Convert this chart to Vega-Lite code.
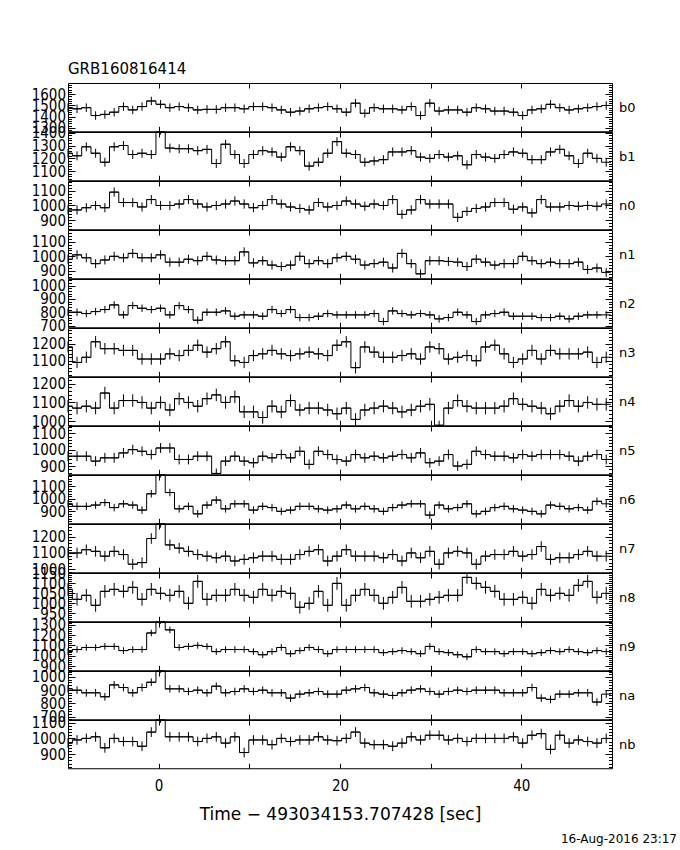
{
"$schema":"https://vega.github.io/schema/vega-lite/v6.json",
"padding":{"left":30,"top":61,"right":5,"bottom":5},
"bounds":"flush",
"spacing":0,
"config":{
"view":{"stroke":"black","strokeWidth":1},
"font":"DejaVu Sans",
"axis":{"grid":false,"domain":false,"tickColor":"black","tickWidth":1,"labelColor":"black","titleColor":"black","labelFont":"DejaVu Sans Condensed, DejaVu Sans","titleFont":"DejaVu Sans","titleFontWeight":"normal","labelFlush":false,"labelOverlap":false,"labelBound":false},
"axisLeft":{"labelFontSize":15,"labelPadding":9.5},
"axisRight":{"titleAngle":0,"titleAlign":"left","titleBaseline":"middle","titlePadding":6,"titleFontSize":13,"titleFont":"DejaVu Sans"},
"axisBottom":{"labelFontSize":15,"labelPadding":15,"titleFontSize":17,"titlePadding":13}
},
"data":{"values":[
{"d":"b0","t":-10.028,"v":1480,"e":38},{"d":"b0","t":-9.004,"v":1470,"e":38},{"d":"b0","t":-7.98,"v":1480,"e":38},{"d":"b0","t":-6.956,"v":1410,"e":38},{"d":"b0","t":-5.932,"v":1420,"e":38},{"d":"b0","t":-4.908,"v":1440,"e":38},{"d":"b0","t":-3.884,"v":1490,"e":38},{"d":"b0","t":-2.86,"v":1460,"e":38},{"d":"b0","t":-1.836,"v":1490,"e":38},{"d":"b0","t":-0.812,"v":1540,"e":38},{"d":"b0","t":0.212,"v":1510,"e":38},{"d":"b0","t":1.236,"v":1480,"e":38},{"d":"b0","t":2.26,"v":1490,"e":38},{"d":"b0","t":3.284,"v":1480,"e":38},{"d":"b0","t":4.308,"v":1460,"e":38},{"d":"b0","t":5.332,"v":1465,"e":38},{"d":"b0","t":6.356,"v":1465,"e":38},{"d":"b0","t":7.38,"v":1480,"e":38},{"d":"b0","t":8.404,"v":1480,"e":38},{"d":"b0","t":9.428,"v":1470,"e":38},{"d":"b0","t":10.452,"v":1490,"e":38},{"d":"b0","t":11.476,"v":1490,"e":38},{"d":"b0","t":12.5,"v":1480,"e":38},{"d":"b0","t":13.524,"v":1460,"e":38},{"d":"b0","t":14.548,"v":1440,"e":38},{"d":"b0","t":15.572,"v":1450,"e":38},{"d":"b0","t":16.596,"v":1470,"e":38},{"d":"b0","t":17.62,"v":1480,"e":38},{"d":"b0","t":18.644,"v":1490,"e":38},{"d":"b0","t":19.668,"v":1470,"e":38},{"d":"b0","t":20.692,"v":1440,"e":38},{"d":"b0","t":21.716,"v":1520,"e":38},{"d":"b0","t":22.74,"v":1430,"e":38},{"d":"b0","t":23.764,"v":1480,"e":38},{"d":"b0","t":24.788,"v":1470,"e":38},{"d":"b0","t":25.812,"v":1470,"e":38},{"d":"b0","t":26.836,"v":1460,"e":38},{"d":"b0","t":27.86,"v":1490,"e":38},{"d":"b0","t":28.884,"v":1410,"e":38},{"d":"b0","t":29.908,"v":1520,"e":38},{"d":"b0","t":30.932,"v":1450,"e":38},{"d":"b0","t":31.956,"v":1460,"e":38},{"d":"b0","t":32.98,"v":1460,"e":38},{"d":"b0","t":34.004,"v":1440,"e":38},{"d":"b0","t":35.028,"v":1480,"e":38},{"d":"b0","t":36.052,"v":1470,"e":38},{"d":"b0","t":37.076,"v":1450,"e":38},{"d":"b0","t":38.1,"v":1450,"e":38},{"d":"b0","t":39.124,"v":1440,"e":38},{"d":"b0","t":40.148,"v":1410,"e":38},{"d":"b0","t":41.172,"v":1460,"e":38},{"d":"b0","t":42.196,"v":1470,"e":38},{"d":"b0","t":43.22,"v":1510,"e":38},{"d":"b0","t":44.244,"v":1480,"e":38},{"d":"b0","t":45.268,"v":1460,"e":38},{"d":"b0","t":46.292,"v":1470,"e":38},{"d":"b0","t":47.316,"v":1480,"e":38},{"d":"b0","t":48.34,"v":1490,"e":38},{"d":"b0","t":49.364,"v":1500,"e":38},
{"d":"b1","t":-10.028,"v":1240,"e":35},{"d":"b1","t":-9.004,"v":1220,"e":35},{"d":"b1","t":-7.98,"v":1290,"e":35},{"d":"b1","t":-6.956,"v":1240,"e":35},{"d":"b1","t":-5.932,"v":1170,"e":35},{"d":"b1","t":-4.908,"v":1290,"e":35},{"d":"b1","t":-3.884,"v":1300,"e":35},{"d":"b1","t":-2.86,"v":1230,"e":35},{"d":"b1","t":-1.836,"v":1240,"e":35},{"d":"b1","t":-0.812,"v":1230,"e":35},{"d":"b1","t":0.212,"v":1420,"e":35},{"d":"b1","t":1.236,"v":1280,"e":35},{"d":"b1","t":2.26,"v":1275,"e":35},{"d":"b1","t":3.284,"v":1275,"e":35},{"d":"b1","t":4.308,"v":1260,"e":35},{"d":"b1","t":5.332,"v":1270,"e":35},{"d":"b1","t":6.356,"v":1160,"e":35},{"d":"b1","t":7.38,"v":1310,"e":35},{"d":"b1","t":8.404,"v":1230,"e":35},{"d":"b1","t":9.428,"v":1160,"e":35},{"d":"b1","t":10.452,"v":1230,"e":35},{"d":"b1","t":11.476,"v":1260,"e":35},{"d":"b1","t":12.5,"v":1250,"e":35},{"d":"b1","t":13.524,"v":1210,"e":35},{"d":"b1","t":14.548,"v":1290,"e":35},{"d":"b1","t":15.572,"v":1260,"e":35},{"d":"b1","t":16.596,"v":1140,"e":35},{"d":"b1","t":17.62,"v":1170,"e":35},{"d":"b1","t":18.644,"v":1240,"e":35},{"d":"b1","t":19.668,"v":1330,"e":35},{"d":"b1","t":20.692,"v":1240,"e":35},{"d":"b1","t":21.716,"v":1230,"e":35},{"d":"b1","t":22.74,"v":1170,"e":35},{"d":"b1","t":23.764,"v":1180,"e":35},{"d":"b1","t":24.788,"v":1190,"e":35},{"d":"b1","t":25.812,"v":1250,"e":35},{"d":"b1","t":26.836,"v":1250,"e":35},{"d":"b1","t":27.86,"v":1260,"e":35},{"d":"b1","t":28.884,"v":1210,"e":35},{"d":"b1","t":29.908,"v":1200,"e":35},{"d":"b1","t":30.932,"v":1230,"e":35},{"d":"b1","t":31.956,"v":1210,"e":35},{"d":"b1","t":32.98,"v":1220,"e":35},{"d":"b1","t":34.004,"v":1150,"e":35},{"d":"b1","t":35.028,"v":1230,"e":35},{"d":"b1","t":36.052,"v":1210,"e":35},{"d":"b1","t":37.076,"v":1200,"e":35},{"d":"b1","t":38.1,"v":1230,"e":35},{"d":"b1","t":39.124,"v":1250,"e":35},{"d":"b1","t":40.148,"v":1240,"e":35},{"d":"b1","t":41.172,"v":1190,"e":35},{"d":"b1","t":42.196,"v":1190,"e":35},{"d":"b1","t":43.22,"v":1250,"e":35},{"d":"b1","t":44.244,"v":1270,"e":35},{"d":"b1","t":45.268,"v":1220,"e":35},{"d":"b1","t":46.292,"v":1160,"e":35},{"d":"b1","t":47.316,"v":1240,"e":35},{"d":"b1","t":48.34,"v":1200,"e":35},{"d":"b1","t":49.364,"v":1170,"e":35},
{"d":"n0","t":-10.028,"v":970,"e":31},{"d":"n0","t":-9.004,"v":970,"e":31},{"d":"n0","t":-7.98,"v":985,"e":31},{"d":"n0","t":-6.956,"v":1000,"e":31},{"d":"n0","t":-5.932,"v":985,"e":31},{"d":"n0","t":-4.908,"v":1090,"e":31},{"d":"n0","t":-3.884,"v":1020,"e":31},{"d":"n0","t":-2.86,"v":1020,"e":31},{"d":"n0","t":-1.836,"v":990,"e":31},{"d":"n0","t":-0.812,"v":1040,"e":31},{"d":"n0","t":0.212,"v":1000,"e":31},{"d":"n0","t":1.236,"v":1000,"e":31},{"d":"n0","t":2.26,"v":1010,"e":31},{"d":"n0","t":3.284,"v":1040,"e":31},{"d":"n0","t":4.308,"v":1010,"e":31},{"d":"n0","t":5.332,"v":990,"e":31},{"d":"n0","t":6.356,"v":1000,"e":31},{"d":"n0","t":7.38,"v":1010,"e":31},{"d":"n0","t":8.404,"v":1030,"e":31},{"d":"n0","t":9.428,"v":1010,"e":31},{"d":"n0","t":10.452,"v":985,"e":31},{"d":"n0","t":11.476,"v":1000,"e":31},{"d":"n0","t":12.5,"v":1040,"e":31},{"d":"n0","t":13.524,"v":1010,"e":31},{"d":"n0","t":14.548,"v":990,"e":31},{"d":"n0","t":15.572,"v":980,"e":31},{"d":"n0","t":16.596,"v":970,"e":31},{"d":"n0","t":17.62,"v":1020,"e":31},{"d":"n0","t":18.644,"v":990,"e":31},{"d":"n0","t":19.668,"v":1000,"e":31},{"d":"n0","t":20.692,"v":1030,"e":31},{"d":"n0","t":21.716,"v":1010,"e":31},{"d":"n0","t":22.74,"v":995,"e":31},{"d":"n0","t":23.764,"v":1010,"e":31},{"d":"n0","t":24.788,"v":1000,"e":31},{"d":"n0","t":25.812,"v":1040,"e":31},{"d":"n0","t":26.836,"v":940,"e":31},{"d":"n0","t":27.86,"v":970,"e":31},{"d":"n0","t":28.884,"v":1040,"e":31},{"d":"n0","t":29.908,"v":1010,"e":31},{"d":"n0","t":30.932,"v":1010,"e":31},{"d":"n0","t":31.956,"v":1010,"e":31},{"d":"n0","t":32.98,"v":920,"e":31},{"d":"n0","t":34.004,"v":960,"e":31},{"d":"n0","t":35.028,"v":980,"e":31},{"d":"n0","t":36.052,"v":990,"e":31},{"d":"n0","t":37.076,"v":1020,"e":31},{"d":"n0","t":38.1,"v":1020,"e":31},{"d":"n0","t":39.124,"v":975,"e":31},{"d":"n0","t":40.148,"v":990,"e":31},{"d":"n0","t":41.172,"v":950,"e":31},{"d":"n0","t":42.196,"v":1040,"e":31},{"d":"n0","t":43.22,"v":990,"e":31},{"d":"n0","t":44.244,"v":990,"e":31},{"d":"n0","t":45.268,"v":1000,"e":31},{"d":"n0","t":46.292,"v":995,"e":31},{"d":"n0","t":47.316,"v":1000,"e":31},{"d":"n0","t":48.34,"v":995,"e":31},{"d":"n0","t":49.364,"v":1010,"e":31},
{"d":"n1","t":-10.028,"v":980,"e":31},{"d":"n1","t":-9.004,"v":1010,"e":31},{"d":"n1","t":-7.98,"v":990,"e":31},{"d":"n1","t":-6.956,"v":950,"e":31},{"d":"n1","t":-5.932,"v":975,"e":31},{"d":"n1","t":-4.908,"v":1000,"e":31},{"d":"n1","t":-3.884,"v":990,"e":31},{"d":"n1","t":-2.86,"v":1020,"e":31},{"d":"n1","t":-1.836,"v":990,"e":31},{"d":"n1","t":-0.812,"v":990,"e":31},{"d":"n1","t":0.212,"v":1010,"e":31},{"d":"n1","t":1.236,"v":960,"e":31},{"d":"n1","t":2.26,"v":960,"e":31},{"d":"n1","t":3.284,"v":980,"e":31},{"d":"n1","t":4.308,"v":970,"e":31},{"d":"n1","t":5.332,"v":1000,"e":31},{"d":"n1","t":6.356,"v":975,"e":31},{"d":"n1","t":7.38,"v":970,"e":31},{"d":"n1","t":8.404,"v":970,"e":31},{"d":"n1","t":9.428,"v":1030,"e":31},{"d":"n1","t":10.452,"v":955,"e":31},{"d":"n1","t":11.476,"v":970,"e":31},{"d":"n1","t":12.5,"v":940,"e":31},{"d":"n1","t":13.524,"v":930,"e":31},{"d":"n1","t":14.548,"v":940,"e":31},{"d":"n1","t":15.572,"v":1000,"e":31},{"d":"n1","t":16.596,"v":950,"e":31},{"d":"n1","t":17.62,"v":970,"e":31},{"d":"n1","t":18.644,"v":950,"e":31},{"d":"n1","t":19.668,"v":990,"e":31},{"d":"n1","t":20.692,"v":1000,"e":31},{"d":"n1","t":21.716,"v":980,"e":31},{"d":"n1","t":22.74,"v":940,"e":31},{"d":"n1","t":23.764,"v":950,"e":31},{"d":"n1","t":24.788,"v":960,"e":31},{"d":"n1","t":25.812,"v":920,"e":31},{"d":"n1","t":26.836,"v":1020,"e":31},{"d":"n1","t":27.86,"v":950,"e":31},{"d":"n1","t":28.884,"v":880,"e":31},{"d":"n1","t":29.908,"v":970,"e":31},{"d":"n1","t":30.932,"v":970,"e":31},{"d":"n1","t":31.956,"v":965,"e":31},{"d":"n1","t":32.98,"v":960,"e":31},{"d":"n1","t":34.004,"v":930,"e":31},{"d":"n1","t":35.028,"v":980,"e":31},{"d":"n1","t":36.052,"v":960,"e":31},{"d":"n1","t":37.076,"v":940,"e":31},{"d":"n1","t":38.1,"v":950,"e":31},{"d":"n1","t":39.124,"v":950,"e":31},{"d":"n1","t":40.148,"v":1000,"e":31},{"d":"n1","t":41.172,"v":970,"e":31},{"d":"n1","t":42.196,"v":950,"e":31},{"d":"n1","t":43.22,"v":960,"e":31},{"d":"n1","t":44.244,"v":950,"e":31},{"d":"n1","t":45.268,"v":950,"e":31},{"d":"n1","t":46.292,"v":960,"e":31},{"d":"n1","t":47.316,"v":910,"e":31},{"d":"n1","t":48.34,"v":920,"e":31},{"d":"n1","t":49.364,"v":890,"e":31},
{"d":"n2","t":-10.028,"v":800,"e":28},{"d":"n2","t":-9.004,"v":800,"e":28},{"d":"n2","t":-7.98,"v":790,"e":28},{"d":"n2","t":-6.956,"v":805,"e":28},{"d":"n2","t":-5.932,"v":820,"e":28},{"d":"n2","t":-4.908,"v":855,"e":28},{"d":"n2","t":-3.884,"v":780,"e":28},{"d":"n2","t":-2.86,"v":850,"e":28},{"d":"n2","t":-1.836,"v":830,"e":28},{"d":"n2","t":-0.812,"v":820,"e":28},{"d":"n2","t":0.212,"v":830,"e":28},{"d":"n2","t":1.236,"v":780,"e":28},{"d":"n2","t":2.26,"v":850,"e":28},{"d":"n2","t":3.284,"v":820,"e":28},{"d":"n2","t":4.308,"v":740,"e":28},{"d":"n2","t":5.332,"v":800,"e":28},{"d":"n2","t":6.356,"v":800,"e":28},{"d":"n2","t":7.38,"v":810,"e":28},{"d":"n2","t":8.404,"v":770,"e":28},{"d":"n2","t":9.428,"v":780,"e":28},{"d":"n2","t":10.452,"v":780,"e":28},{"d":"n2","t":11.476,"v":770,"e":28},{"d":"n2","t":12.5,"v":820,"e":28},{"d":"n2","t":13.524,"v":790,"e":28},{"d":"n2","t":14.548,"v":820,"e":28},{"d":"n2","t":15.572,"v":760,"e":28},{"d":"n2","t":16.596,"v":760,"e":28},{"d":"n2","t":17.62,"v":770,"e":28},{"d":"n2","t":18.644,"v":790,"e":28},{"d":"n2","t":19.668,"v":780,"e":28},{"d":"n2","t":20.692,"v":780,"e":28},{"d":"n2","t":21.716,"v":780,"e":28},{"d":"n2","t":22.74,"v":780,"e":28},{"d":"n2","t":23.764,"v":790,"e":28},{"d":"n2","t":24.788,"v":730,"e":28},{"d":"n2","t":25.812,"v":810,"e":28},{"d":"n2","t":26.836,"v":790,"e":28},{"d":"n2","t":27.86,"v":780,"e":28},{"d":"n2","t":28.884,"v":790,"e":28},{"d":"n2","t":29.908,"v":780,"e":28},{"d":"n2","t":30.932,"v":750,"e":28},{"d":"n2","t":31.956,"v":760,"e":28},{"d":"n2","t":32.98,"v":800,"e":28},{"d":"n2","t":34.004,"v":780,"e":28},{"d":"n2","t":35.028,"v":730,"e":28},{"d":"n2","t":36.052,"v":780,"e":28},{"d":"n2","t":37.076,"v":790,"e":28},{"d":"n2","t":38.1,"v":800,"e":28},{"d":"n2","t":39.124,"v":770,"e":28},{"d":"n2","t":40.148,"v":770,"e":28},{"d":"n2","t":41.172,"v":770,"e":28},{"d":"n2","t":42.196,"v":760,"e":28},{"d":"n2","t":43.22,"v":760,"e":28},{"d":"n2","t":44.244,"v":770,"e":28},{"d":"n2","t":45.268,"v":750,"e":28},{"d":"n2","t":46.292,"v":770,"e":28},{"d":"n2","t":47.316,"v":780,"e":28},{"d":"n2","t":48.34,"v":780,"e":28},{"d":"n2","t":49.364,"v":780,"e":28},
{"d":"n3","t":-10.028,"v":1180,"e":33},{"d":"n3","t":-9.004,"v":1090,"e":33},{"d":"n3","t":-7.98,"v":1120,"e":33},{"d":"n3","t":-6.956,"v":1210,"e":33},{"d":"n3","t":-5.932,"v":1170,"e":33},{"d":"n3","t":-4.908,"v":1170,"e":33},{"d":"n3","t":-3.884,"v":1160,"e":33},{"d":"n3","t":-2.86,"v":1160,"e":33},{"d":"n3","t":-1.836,"v":1110,"e":33},{"d":"n3","t":-0.812,"v":1110,"e":33},{"d":"n3","t":0.212,"v":1110,"e":33},{"d":"n3","t":1.236,"v":1140,"e":33},{"d":"n3","t":2.26,"v":1130,"e":33},{"d":"n3","t":3.284,"v":1160,"e":33},{"d":"n3","t":4.308,"v":1190,"e":33},{"d":"n3","t":5.332,"v":1150,"e":33},{"d":"n3","t":6.356,"v":1170,"e":33},{"d":"n3","t":7.38,"v":1210,"e":33},{"d":"n3","t":8.404,"v":1100,"e":33},{"d":"n3","t":9.428,"v":1090,"e":33},{"d":"n3","t":10.452,"v":1130,"e":33},{"d":"n3","t":11.476,"v":1140,"e":33},{"d":"n3","t":12.5,"v":1160,"e":33},{"d":"n3","t":13.524,"v":1140,"e":33},{"d":"n3","t":14.548,"v":1130,"e":33},{"d":"n3","t":15.572,"v":1140,"e":33},{"d":"n3","t":16.596,"v":1150,"e":33},{"d":"n3","t":17.62,"v":1140,"e":33},{"d":"n3","t":18.644,"v":1130,"e":33},{"d":"n3","t":19.668,"v":1190,"e":33},{"d":"n3","t":20.692,"v":1210,"e":33},{"d":"n3","t":21.716,"v":1060,"e":33},{"d":"n3","t":22.74,"v":1180,"e":33},{"d":"n3","t":23.764,"v":1150,"e":33},{"d":"n3","t":24.788,"v":1120,"e":33},{"d":"n3","t":25.812,"v":1120,"e":33},{"d":"n3","t":26.836,"v":1130,"e":33},{"d":"n3","t":27.86,"v":1140,"e":33},{"d":"n3","t":28.884,"v":1110,"e":33},{"d":"n3","t":29.908,"v":1180,"e":33},{"d":"n3","t":30.932,"v":1170,"e":33},{"d":"n3","t":31.956,"v":1110,"e":33},{"d":"n3","t":32.98,"v":1120,"e":33},{"d":"n3","t":34.004,"v":1130,"e":33},{"d":"n3","t":35.028,"v":1100,"e":33},{"d":"n3","t":36.052,"v":1180,"e":33},{"d":"n3","t":37.076,"v":1190,"e":33},{"d":"n3","t":38.1,"v":1140,"e":33},{"d":"n3","t":39.124,"v":1090,"e":33},{"d":"n3","t":40.148,"v":1110,"e":33},{"d":"n3","t":41.172,"v":1160,"e":33},{"d":"n3","t":42.196,"v":1110,"e":33},{"d":"n3","t":43.22,"v":1160,"e":33},{"d":"n3","t":44.244,"v":1140,"e":33},{"d":"n3","t":45.268,"v":1140,"e":33},{"d":"n3","t":46.292,"v":1140,"e":33},{"d":"n3","t":47.316,"v":1150,"e":33},{"d":"n3","t":48.34,"v":1090,"e":33},{"d":"n3","t":49.364,"v":1120,"e":33},
{"d":"n4","t":-10.028,"v":1080,"e":33},{"d":"n4","t":-9.004,"v":1070,"e":33},{"d":"n4","t":-7.98,"v":1080,"e":33},{"d":"n4","t":-6.956,"v":1070,"e":33},{"d":"n4","t":-5.932,"v":1150,"e":33},{"d":"n4","t":-4.908,"v":1070,"e":33},{"d":"n4","t":-3.884,"v":1110,"e":33},{"d":"n4","t":-2.86,"v":1110,"e":33},{"d":"n4","t":-1.836,"v":1100,"e":33},{"d":"n4","t":-0.812,"v":1070,"e":33},{"d":"n4","t":0.212,"v":1100,"e":33},{"d":"n4","t":1.236,"v":1060,"e":33},{"d":"n4","t":2.26,"v":1120,"e":33},{"d":"n4","t":3.284,"v":1100,"e":33},{"d":"n4","t":4.308,"v":1080,"e":33},{"d":"n4","t":5.332,"v":1120,"e":33},{"d":"n4","t":6.356,"v":1140,"e":33},{"d":"n4","t":7.38,"v":1100,"e":33},{"d":"n4","t":8.404,"v":1130,"e":33},{"d":"n4","t":9.428,"v":1050,"e":33},{"d":"n4","t":10.452,"v":1050,"e":33},{"d":"n4","t":11.476,"v":1020,"e":33},{"d":"n4","t":12.5,"v":1080,"e":33},{"d":"n4","t":13.524,"v":1050,"e":33},{"d":"n4","t":14.548,"v":1110,"e":33},{"d":"n4","t":15.572,"v":1060,"e":33},{"d":"n4","t":16.596,"v":1070,"e":33},{"d":"n4","t":17.62,"v":1070,"e":33},{"d":"n4","t":18.644,"v":1060,"e":33},{"d":"n4","t":19.668,"v":1040,"e":33},{"d":"n4","t":20.692,"v":1070,"e":33},{"d":"n4","t":21.716,"v":1010,"e":33},{"d":"n4","t":22.74,"v":1060,"e":33},{"d":"n4","t":23.764,"v":1070,"e":33},{"d":"n4","t":24.788,"v":1080,"e":33},{"d":"n4","t":25.812,"v":1070,"e":33},{"d":"n4","t":26.836,"v":1050,"e":33},{"d":"n4","t":27.86,"v":1060,"e":33},{"d":"n4","t":28.884,"v":1080,"e":33},{"d":"n4","t":29.908,"v":1090,"e":33},{"d":"n4","t":30.932,"v":970,"e":33},{"d":"n4","t":31.956,"v":1070,"e":33},{"d":"n4","t":32.98,"v":1110,"e":33},{"d":"n4","t":34.004,"v":1080,"e":33},{"d":"n4","t":35.028,"v":1070,"e":33},{"d":"n4","t":36.052,"v":1070,"e":33},{"d":"n4","t":37.076,"v":1070,"e":33},{"d":"n4","t":38.1,"v":1080,"e":33},{"d":"n4","t":39.124,"v":1120,"e":33},{"d":"n4","t":40.148,"v":1090,"e":33},{"d":"n4","t":41.172,"v":1080,"e":33},{"d":"n4","t":42.196,"v":1070,"e":33},{"d":"n4","t":43.22,"v":1040,"e":33},{"d":"n4","t":44.244,"v":1080,"e":33},{"d":"n4","t":45.268,"v":1110,"e":33},{"d":"n4","t":46.292,"v":1080,"e":33},{"d":"n4","t":47.316,"v":1100,"e":33},{"d":"n4","t":48.34,"v":1090,"e":33},{"d":"n4","t":49.364,"v":1090,"e":33},
{"d":"n5","t":-10.028,"v":960,"e":30},{"d":"n5","t":-9.004,"v":960,"e":30},{"d":"n5","t":-7.98,"v":960,"e":30},{"d":"n5","t":-6.956,"v":930,"e":30},{"d":"n5","t":-5.932,"v":950,"e":30},{"d":"n5","t":-4.908,"v":950,"e":30},{"d":"n5","t":-3.884,"v":980,"e":30},{"d":"n5","t":-2.86,"v":1000,"e":30},{"d":"n5","t":-1.836,"v":990,"e":30},{"d":"n5","t":-0.812,"v":970,"e":30},{"d":"n5","t":0.212,"v":1010,"e":30},{"d":"n5","t":1.236,"v":1010,"e":30},{"d":"n5","t":2.26,"v":940,"e":30},{"d":"n5","t":3.284,"v":940,"e":30},{"d":"n5","t":4.308,"v":960,"e":30},{"d":"n5","t":5.332,"v":960,"e":30},{"d":"n5","t":6.356,"v":855,"e":30},{"d":"n5","t":7.38,"v":930,"e":30},{"d":"n5","t":8.404,"v":960,"e":30},{"d":"n5","t":9.428,"v":930,"e":30},{"d":"n5","t":10.452,"v":920,"e":30},{"d":"n5","t":11.476,"v":960,"e":30},{"d":"n5","t":12.5,"v":950,"e":30},{"d":"n5","t":13.524,"v":970,"e":30},{"d":"n5","t":14.548,"v":950,"e":30},{"d":"n5","t":15.572,"v":990,"e":30},{"d":"n5","t":16.596,"v":910,"e":30},{"d":"n5","t":17.62,"v":990,"e":30},{"d":"n5","t":18.644,"v":970,"e":30},{"d":"n5","t":19.668,"v":940,"e":30},{"d":"n5","t":20.692,"v":930,"e":30},{"d":"n5","t":21.716,"v":970,"e":30},{"d":"n5","t":22.74,"v":950,"e":30},{"d":"n5","t":23.764,"v":960,"e":30},{"d":"n5","t":24.788,"v":950,"e":30},{"d":"n5","t":25.812,"v":960,"e":30},{"d":"n5","t":26.836,"v":970,"e":30},{"d":"n5","t":27.86,"v":950,"e":30},{"d":"n5","t":28.884,"v":980,"e":30},{"d":"n5","t":29.908,"v":920,"e":30},{"d":"n5","t":30.932,"v":930,"e":30},{"d":"n5","t":31.956,"v":970,"e":30},{"d":"n5","t":32.98,"v":900,"e":30},{"d":"n5","t":34.004,"v":910,"e":30},{"d":"n5","t":35.028,"v":990,"e":30},{"d":"n5","t":36.052,"v":970,"e":30},{"d":"n5","t":37.076,"v":960,"e":30},{"d":"n5","t":38.1,"v":960,"e":30},{"d":"n5","t":39.124,"v":950,"e":30},{"d":"n5","t":40.148,"v":970,"e":30},{"d":"n5","t":41.172,"v":960,"e":30},{"d":"n5","t":42.196,"v":970,"e":30},{"d":"n5","t":43.22,"v":970,"e":30},{"d":"n5","t":44.244,"v":970,"e":30},{"d":"n5","t":45.268,"v":960,"e":30},{"d":"n5","t":46.292,"v":930,"e":30},{"d":"n5","t":47.316,"v":960,"e":30},{"d":"n5","t":48.34,"v":970,"e":30},{"d":"n5","t":49.364,"v":940,"e":30},
{"d":"n6","t":-10.028,"v":960,"e":30},{"d":"n6","t":-9.004,"v":940,"e":30},{"d":"n6","t":-7.98,"v":940,"e":30},{"d":"n6","t":-6.956,"v":950,"e":30},{"d":"n6","t":-5.932,"v":970,"e":30},{"d":"n6","t":-4.908,"v":930,"e":30},{"d":"n6","t":-3.884,"v":960,"e":30},{"d":"n6","t":-2.86,"v":950,"e":30},{"d":"n6","t":-1.836,"v":910,"e":30},{"d":"n6","t":-0.812,"v":1040,"e":30},{"d":"n6","t":0.212,"v":1200,"e":30},{"d":"n6","t":1.236,"v":1050,"e":30},{"d":"n6","t":2.26,"v":920,"e":30},{"d":"n6","t":3.284,"v":940,"e":30},{"d":"n6","t":4.308,"v":880,"e":30},{"d":"n6","t":5.332,"v":950,"e":30},{"d":"n6","t":6.356,"v":990,"e":30},{"d":"n6","t":7.38,"v":920,"e":30},{"d":"n6","t":8.404,"v":960,"e":30},{"d":"n6","t":9.428,"v":960,"e":30},{"d":"n6","t":10.452,"v":910,"e":30},{"d":"n6","t":11.476,"v":940,"e":30},{"d":"n6","t":12.5,"v":930,"e":30},{"d":"n6","t":13.524,"v":900,"e":30},{"d":"n6","t":14.548,"v":910,"e":30},{"d":"n6","t":15.572,"v":940,"e":30},{"d":"n6","t":16.596,"v":940,"e":30},{"d":"n6","t":17.62,"v":920,"e":30},{"d":"n6","t":18.644,"v":910,"e":30},{"d":"n6","t":19.668,"v":920,"e":30},{"d":"n6","t":20.692,"v":950,"e":30},{"d":"n6","t":21.716,"v":920,"e":30},{"d":"n6","t":22.74,"v":940,"e":30},{"d":"n6","t":23.764,"v":920,"e":30},{"d":"n6","t":24.788,"v":900,"e":30},{"d":"n6","t":25.812,"v":930,"e":30},{"d":"n6","t":26.836,"v":950,"e":30},{"d":"n6","t":27.86,"v":960,"e":30},{"d":"n6","t":28.884,"v":960,"e":30},{"d":"n6","t":29.908,"v":870,"e":30},{"d":"n6","t":30.932,"v":950,"e":30},{"d":"n6","t":31.956,"v":920,"e":30},{"d":"n6","t":32.98,"v":930,"e":30},{"d":"n6","t":34.004,"v":960,"e":30},{"d":"n6","t":35.028,"v":880,"e":30},{"d":"n6","t":36.052,"v":900,"e":30},{"d":"n6","t":37.076,"v":930,"e":30},{"d":"n6","t":38.1,"v":940,"e":30},{"d":"n6","t":39.124,"v":920,"e":30},{"d":"n6","t":40.148,"v":910,"e":30},{"d":"n6","t":41.172,"v":900,"e":30},{"d":"n6","t":42.196,"v":880,"e":30},{"d":"n6","t":43.22,"v":950,"e":30},{"d":"n6","t":44.244,"v":940,"e":30},{"d":"n6","t":45.268,"v":920,"e":30},{"d":"n6","t":46.292,"v":930,"e":30},{"d":"n6","t":47.316,"v":910,"e":30},{"d":"n6","t":48.34,"v":980,"e":30},{"d":"n6","t":49.364,"v":960,"e":30},
{"d":"n7","t":-10.028,"v":1100,"e":33},{"d":"n7","t":-9.004,"v":1100,"e":33},{"d":"n7","t":-7.98,"v":1120,"e":33},{"d":"n7","t":-6.956,"v":1110,"e":33},{"d":"n7","t":-5.932,"v":1080,"e":33},{"d":"n7","t":-4.908,"v":1110,"e":33},{"d":"n7","t":-3.884,"v":1090,"e":33},{"d":"n7","t":-2.86,"v":1030,"e":33},{"d":"n7","t":-1.836,"v":1040,"e":33},{"d":"n7","t":-0.812,"v":1190,"e":33},{"d":"n7","t":0.212,"v":1290,"e":33},{"d":"n7","t":1.236,"v":1150,"e":33},{"d":"n7","t":2.26,"v":1130,"e":33},{"d":"n7","t":3.284,"v":1110,"e":33},{"d":"n7","t":4.308,"v":1090,"e":33},{"d":"n7","t":5.332,"v":1080,"e":33},{"d":"n7","t":6.356,"v":1070,"e":33},{"d":"n7","t":7.38,"v":1080,"e":33},{"d":"n7","t":8.404,"v":1050,"e":33},{"d":"n7","t":9.428,"v":1060,"e":33},{"d":"n7","t":10.452,"v":1070,"e":33},{"d":"n7","t":11.476,"v":1080,"e":33},{"d":"n7","t":12.5,"v":1080,"e":33},{"d":"n7","t":13.524,"v":1060,"e":33},{"d":"n7","t":14.548,"v":1060,"e":33},{"d":"n7","t":15.572,"v":1090,"e":33},{"d":"n7","t":16.596,"v":1110,"e":33},{"d":"n7","t":17.62,"v":1120,"e":33},{"d":"n7","t":18.644,"v":1050,"e":33},{"d":"n7","t":19.668,"v":1080,"e":33},{"d":"n7","t":20.692,"v":1120,"e":33},{"d":"n7","t":21.716,"v":1080,"e":33},{"d":"n7","t":22.74,"v":1080,"e":33},{"d":"n7","t":23.764,"v":1080,"e":33},{"d":"n7","t":24.788,"v":1070,"e":33},{"d":"n7","t":25.812,"v":1090,"e":33},{"d":"n7","t":26.836,"v":1050,"e":33},{"d":"n7","t":27.86,"v":1100,"e":33},{"d":"n7","t":28.884,"v":1070,"e":33},{"d":"n7","t":29.908,"v":1110,"e":33},{"d":"n7","t":30.932,"v":1030,"e":33},{"d":"n7","t":31.956,"v":1100,"e":33},{"d":"n7","t":32.98,"v":1110,"e":33},{"d":"n7","t":34.004,"v":1100,"e":33},{"d":"n7","t":35.028,"v":1030,"e":33},{"d":"n7","t":36.052,"v":1080,"e":33},{"d":"n7","t":37.076,"v":1090,"e":33},{"d":"n7","t":38.1,"v":1090,"e":33},{"d":"n7","t":39.124,"v":1110,"e":33},{"d":"n7","t":40.148,"v":1080,"e":33},{"d":"n7","t":41.172,"v":1090,"e":33},{"d":"n7","t":42.196,"v":1140,"e":33},{"d":"n7","t":43.22,"v":1060,"e":33},{"d":"n7","t":44.244,"v":1070,"e":33},{"d":"n7","t":45.268,"v":1070,"e":33},{"d":"n7","t":46.292,"v":1090,"e":33},{"d":"n7","t":47.316,"v":1110,"e":33},{"d":"n7","t":48.34,"v":1080,"e":33},{"d":"n7","t":49.364,"v":1080,"e":33},
{"d":"n8","t":-10.028,"v":1070,"e":32},{"d":"n8","t":-9.004,"v":1020,"e":32},{"d":"n8","t":-7.98,"v":1040,"e":32},{"d":"n8","t":-6.956,"v":990,"e":32},{"d":"n8","t":-5.932,"v":1060,"e":32},{"d":"n8","t":-4.908,"v":1070,"e":32},{"d":"n8","t":-3.884,"v":1060,"e":32},{"d":"n8","t":-2.86,"v":1080,"e":32},{"d":"n8","t":-1.836,"v":1020,"e":32},{"d":"n8","t":-0.812,"v":1070,"e":32},{"d":"n8","t":0.212,"v":1050,"e":32},{"d":"n8","t":1.236,"v":1040,"e":32},{"d":"n8","t":2.26,"v":1060,"e":32},{"d":"n8","t":3.284,"v":1000,"e":32},{"d":"n8","t":4.308,"v":1110,"e":32},{"d":"n8","t":5.332,"v":1020,"e":32},{"d":"n8","t":6.356,"v":1040,"e":32},{"d":"n8","t":7.38,"v":1040,"e":32},{"d":"n8","t":8.404,"v":1070,"e":32},{"d":"n8","t":9.428,"v":1040,"e":32},{"d":"n8","t":10.452,"v":1030,"e":32},{"d":"n8","t":11.476,"v":1070,"e":32},{"d":"n8","t":12.5,"v":1040,"e":32},{"d":"n8","t":13.524,"v":1060,"e":32},{"d":"n8","t":14.548,"v":1050,"e":32},{"d":"n8","t":15.572,"v":980,"e":32},{"d":"n8","t":16.596,"v":1000,"e":32},{"d":"n8","t":17.62,"v":1060,"e":32},{"d":"n8","t":18.644,"v":990,"e":32},{"d":"n8","t":19.668,"v":1100,"e":32},{"d":"n8","t":20.692,"v":990,"e":32},{"d":"n8","t":21.716,"v":1040,"e":32},{"d":"n8","t":22.74,"v":1070,"e":32},{"d":"n8","t":23.764,"v":1040,"e":32},{"d":"n8","t":24.788,"v":1000,"e":32},{"d":"n8","t":25.812,"v":1030,"e":32},{"d":"n8","t":26.836,"v":1080,"e":32},{"d":"n8","t":27.86,"v":1010,"e":32},{"d":"n8","t":28.884,"v":1010,"e":32},{"d":"n8","t":29.908,"v":1020,"e":32},{"d":"n8","t":30.932,"v":1030,"e":32},{"d":"n8","t":31.956,"v":1040,"e":32},{"d":"n8","t":32.98,"v":1040,"e":32},{"d":"n8","t":34.004,"v":1130,"e":32},{"d":"n8","t":35.028,"v":1100,"e":32},{"d":"n8","t":36.052,"v":1080,"e":32},{"d":"n8","t":37.076,"v":1060,"e":32},{"d":"n8","t":38.1,"v":1020,"e":32},{"d":"n8","t":39.124,"v":1020,"e":32},{"d":"n8","t":40.148,"v":1030,"e":32},{"d":"n8","t":41.172,"v":1000,"e":32},{"d":"n8","t":42.196,"v":1070,"e":32},{"d":"n8","t":43.22,"v":1040,"e":32},{"d":"n8","t":44.244,"v":1050,"e":32},{"d":"n8","t":45.268,"v":1040,"e":32},{"d":"n8","t":46.292,"v":1090,"e":32},{"d":"n8","t":47.316,"v":1110,"e":32},{"d":"n8","t":48.34,"v":1030,"e":32},{"d":"n8","t":49.364,"v":1050,"e":32},
{"d":"n9","t":-10.028,"v":1040,"e":32},{"d":"n9","t":-9.004,"v":1060,"e":32},{"d":"n9","t":-7.98,"v":1080,"e":32},{"d":"n9","t":-6.956,"v":1080,"e":32},{"d":"n9","t":-5.932,"v":1090,"e":32},{"d":"n9","t":-4.908,"v":1090,"e":32},{"d":"n9","t":-3.884,"v":1050,"e":32},{"d":"n9","t":-2.86,"v":1060,"e":32},{"d":"n9","t":-1.836,"v":1060,"e":32},{"d":"n9","t":-0.812,"v":1220,"e":32},{"d":"n9","t":0.212,"v":1340,"e":32},{"d":"n9","t":1.236,"v":1250,"e":32},{"d":"n9","t":2.26,"v":1080,"e":32},{"d":"n9","t":3.284,"v":1090,"e":32},{"d":"n9","t":4.308,"v":1100,"e":32},{"d":"n9","t":5.332,"v":1090,"e":32},{"d":"n9","t":6.356,"v":1040,"e":32},{"d":"n9","t":7.38,"v":1060,"e":32},{"d":"n9","t":8.404,"v":1060,"e":32},{"d":"n9","t":9.428,"v":1060,"e":32},{"d":"n9","t":10.452,"v":1040,"e":32},{"d":"n9","t":11.476,"v":1010,"e":32},{"d":"n9","t":12.5,"v":1040,"e":32},{"d":"n9","t":13.524,"v":1080,"e":32},{"d":"n9","t":14.548,"v":1020,"e":32},{"d":"n9","t":15.572,"v":1050,"e":32},{"d":"n9","t":16.596,"v":1080,"e":32},{"d":"n9","t":17.62,"v":1060,"e":32},{"d":"n9","t":18.644,"v":1020,"e":32},{"d":"n9","t":19.668,"v":1060,"e":32},{"d":"n9","t":20.692,"v":1060,"e":32},{"d":"n9","t":21.716,"v":1060,"e":32},{"d":"n9","t":22.74,"v":1060,"e":32},{"d":"n9","t":23.764,"v":1060,"e":32},{"d":"n9","t":24.788,"v":1030,"e":32},{"d":"n9","t":25.812,"v":1040,"e":32},{"d":"n9","t":26.836,"v":1050,"e":32},{"d":"n9","t":27.86,"v":1040,"e":32},{"d":"n9","t":28.884,"v":1020,"e":32},{"d":"n9","t":29.908,"v":1090,"e":32},{"d":"n9","t":30.932,"v":1040,"e":32},{"d":"n9","t":31.956,"v":1030,"e":32},{"d":"n9","t":32.98,"v":1010,"e":32},{"d":"n9","t":34.004,"v":990,"e":32},{"d":"n9","t":35.028,"v":1060,"e":32},{"d":"n9","t":36.052,"v":1040,"e":32},{"d":"n9","t":37.076,"v":1040,"e":32},{"d":"n9","t":38.1,"v":1020,"e":32},{"d":"n9","t":39.124,"v":1040,"e":32},{"d":"n9","t":40.148,"v":1040,"e":32},{"d":"n9","t":41.172,"v":1020,"e":32},{"d":"n9","t":42.196,"v":1030,"e":32},{"d":"n9","t":43.22,"v":1050,"e":32},{"d":"n9","t":44.244,"v":1040,"e":32},{"d":"n9","t":45.268,"v":1060,"e":32},{"d":"n9","t":46.292,"v":1040,"e":32},{"d":"n9","t":47.316,"v":1030,"e":32},{"d":"n9","t":48.34,"v":1050,"e":32},{"d":"n9","t":49.364,"v":1040,"e":32},
{"d":"na","t":-10.028,"v":910,"e":29},{"d":"na","t":-9.004,"v":900,"e":29},{"d":"na","t":-7.98,"v":880,"e":29},{"d":"na","t":-6.956,"v":880,"e":29},{"d":"na","t":-5.932,"v":850,"e":29},{"d":"na","t":-4.908,"v":940,"e":29},{"d":"na","t":-3.884,"v":920,"e":29},{"d":"na","t":-2.86,"v":880,"e":29},{"d":"na","t":-1.836,"v":920,"e":29},{"d":"na","t":-0.812,"v":960,"e":29},{"d":"na","t":0.212,"v":1060,"e":29},{"d":"na","t":1.236,"v":910,"e":29},{"d":"na","t":2.26,"v":910,"e":29},{"d":"na","t":3.284,"v":890,"e":29},{"d":"na","t":4.308,"v":900,"e":29},{"d":"na","t":5.332,"v":880,"e":29},{"d":"na","t":6.356,"v":930,"e":29},{"d":"na","t":7.38,"v":880,"e":29},{"d":"na","t":8.404,"v":890,"e":29},{"d":"na","t":9.428,"v":910,"e":29},{"d":"na","t":10.452,"v":890,"e":29},{"d":"na","t":11.476,"v":900,"e":29},{"d":"na","t":12.5,"v":880,"e":29},{"d":"na","t":13.524,"v":880,"e":29},{"d":"na","t":14.548,"v":840,"e":29},{"d":"na","t":15.572,"v":870,"e":29},{"d":"na","t":16.596,"v":880,"e":29},{"d":"na","t":17.62,"v":890,"e":29},{"d":"na","t":18.644,"v":870,"e":29},{"d":"na","t":19.668,"v":870,"e":29},{"d":"na","t":20.692,"v":900,"e":29},{"d":"na","t":21.716,"v":910,"e":29},{"d":"na","t":22.74,"v":920,"e":29},{"d":"na","t":23.764,"v":880,"e":29},{"d":"na","t":24.788,"v":870,"e":29},{"d":"na","t":25.812,"v":860,"e":29},{"d":"na","t":26.836,"v":880,"e":29},{"d":"na","t":27.86,"v":900,"e":29},{"d":"na","t":28.884,"v":910,"e":29},{"d":"na","t":29.908,"v":890,"e":29},{"d":"na","t":30.932,"v":870,"e":29},{"d":"na","t":31.956,"v":890,"e":29},{"d":"na","t":32.98,"v":900,"e":29},{"d":"na","t":34.004,"v":890,"e":29},{"d":"na","t":35.028,"v":900,"e":29},{"d":"na","t":36.052,"v":900,"e":29},{"d":"na","t":37.076,"v":900,"e":29},{"d":"na","t":38.1,"v":880,"e":29},{"d":"na","t":39.124,"v":880,"e":29},{"d":"na","t":40.148,"v":880,"e":29},{"d":"na","t":41.172,"v":920,"e":29},{"d":"na","t":42.196,"v":840,"e":29},{"d":"na","t":43.22,"v":830,"e":29},{"d":"na","t":44.244,"v":870,"e":29},{"d":"na","t":45.268,"v":870,"e":29},{"d":"na","t":46.292,"v":880,"e":29},{"d":"na","t":47.316,"v":880,"e":29},{"d":"na","t":48.34,"v":810,"e":29},{"d":"na","t":49.364,"v":870,"e":29},
{"d":"nb","t":-10.028,"v":970,"e":31},{"d":"nb","t":-9.004,"v":990,"e":31},{"d":"nb","t":-7.98,"v":1000,"e":31},{"d":"nb","t":-6.956,"v":1010,"e":31},{"d":"nb","t":-5.932,"v":940,"e":31},{"d":"nb","t":-4.908,"v":1000,"e":31},{"d":"nb","t":-3.884,"v":980,"e":31},{"d":"nb","t":-2.86,"v":980,"e":31},{"d":"nb","t":-1.836,"v":950,"e":31},{"d":"nb","t":-0.812,"v":1040,"e":31},{"d":"nb","t":0.212,"v":1130,"e":31},{"d":"nb","t":1.236,"v":1010,"e":31},{"d":"nb","t":2.26,"v":1010,"e":31},{"d":"nb","t":3.284,"v":1010,"e":31},{"d":"nb","t":4.308,"v":980,"e":31},{"d":"nb","t":5.332,"v":1000,"e":31},{"d":"nb","t":6.356,"v":1010,"e":31},{"d":"nb","t":7.38,"v":970,"e":31},{"d":"nb","t":8.404,"v":1010,"e":31},{"d":"nb","t":9.428,"v":910,"e":31},{"d":"nb","t":10.452,"v":990,"e":31},{"d":"nb","t":11.476,"v":990,"e":31},{"d":"nb","t":12.5,"v":960,"e":31},{"d":"nb","t":13.524,"v":1000,"e":31},{"d":"nb","t":14.548,"v":980,"e":31},{"d":"nb","t":15.572,"v":990,"e":31},{"d":"nb","t":16.596,"v":990,"e":31},{"d":"nb","t":17.62,"v":1010,"e":31},{"d":"nb","t":18.644,"v":990,"e":31},{"d":"nb","t":19.668,"v":985,"e":31},{"d":"nb","t":20.692,"v":1000,"e":31},{"d":"nb","t":21.716,"v":1040,"e":31},{"d":"nb","t":22.74,"v":970,"e":31},{"d":"nb","t":23.764,"v":960,"e":31},{"d":"nb","t":24.788,"v":960,"e":31},{"d":"nb","t":25.812,"v":950,"e":31},{"d":"nb","t":26.836,"v":970,"e":31},{"d":"nb","t":27.86,"v":1010,"e":31},{"d":"nb","t":28.884,"v":990,"e":31},{"d":"nb","t":29.908,"v":1020,"e":31},{"d":"nb","t":30.932,"v":1020,"e":31},{"d":"nb","t":31.956,"v":990,"e":31},{"d":"nb","t":32.98,"v":1000,"e":31},{"d":"nb","t":34.004,"v":980,"e":31},{"d":"nb","t":35.028,"v":1000,"e":31},{"d":"nb","t":36.052,"v":1000,"e":31},{"d":"nb","t":37.076,"v":1000,"e":31},{"d":"nb","t":38.1,"v":1000,"e":31},{"d":"nb","t":39.124,"v":1010,"e":31},{"d":"nb","t":40.148,"v":970,"e":31},{"d":"nb","t":41.172,"v":1020,"e":31},{"d":"nb","t":42.196,"v":1030,"e":31},{"d":"nb","t":43.22,"v":930,"e":31},{"d":"nb","t":44.244,"v":1020,"e":31},{"d":"nb","t":45.268,"v":970,"e":31},{"d":"nb","t":46.292,"v":990,"e":31},{"d":"nb","t":47.316,"v":980,"e":31},{"d":"nb","t":48.34,"v":970,"e":31},{"d":"nb","t":49.364,"v":1000,"e":31}
]},
"vconcat":[
{"width":544,"height":48.25,"title":{"text":"GRB160816414","anchor":"start","frame":"group","fontSize":15,"fontWeight":"normal","font":"DejaVu Sans","color":"black","offset":1},
"transform":[{"filter":"datum.d==='b0'"},{"bin":{"step":1.024,"anchor":-0.3,"extent":[-10.6,50.5]},"field":"t","as":["t0","t1"]}],
"layer":[
{"mark":{"type":"rule","color":"black","strokeWidth":1},"encoding":{"x":{"field":"t0","type":"quantitative","scale":{"domain":[-10,50],"clamp":true,"nice":false,"zero":false},"axis":{"orient":"bottom","values":[0,10,20,30,40],"tickSize":-5,"labels":false,"title":null}},"x2":{"field":"t1"},"y":{"field":"v","type":"quantitative","scale":{"domain":[1270,1700],"clamp":true,"nice":false,"zero":false},"axis":{"orient":"left","values":[1280,1300,1320,1340,1360,1380,1400,1420,1440,1460,1480,1500,1520,1540,1560,1580,1600,1620,1640,1660,1680],"tickSize":{"condition":{"test":"datum.value % 100 === 0","value":-7},"value":-3.5},"labelExpr":"datum.value % 100 === 0 ? '' + datum.value : ''","title":null}}}},
{"mark":{"type":"line","interpolate":"step-after","color":"black","strokeWidth":1},"encoding":{"x":{"field":"t0","type":"quantitative","axis":{"orient":"top","values":[0,10,20,30,40],"tickSize":-5,"labels":false,"title":null}},"y":{"field":"v","type":"quantitative","axis":{"orient":"right","values":[1280,1300,1320,1340,1360,1380,1400,1420,1440,1460,1480,1500,1520,1540,1560,1580,1600,1620,1640,1660,1680],"tickSize":{"condition":{"test":"datum.value % 100 === 0","value":-7},"value":-3.5},"labels":false,"title":"b0"}}}},
{"mark":{"type":"errorbar","color":"black","thickness":1},"encoding":{"x":{"field":"t","type":"quantitative","axis":null},"y":{"field":"v","type":"quantitative","axis":null},"yError":{"field":"e"}}}
],"resolve":{"axis":{"x":"independent","y":"independent"}}},
{"width":544,"height":48.25,
"transform":[{"filter":"datum.d==='b1'"},{"bin":{"step":1.024,"anchor":-0.3,"extent":[-10.6,50.5]},"field":"t","as":["t0","t1"]}],
"layer":[
{"mark":{"type":"rule","color":"black","strokeWidth":1},"encoding":{"x":{"field":"t0","type":"quantitative","scale":{"domain":[-10,50],"clamp":true,"nice":false,"zero":false},"axis":{"orient":"bottom","values":[0,10,20,30,40],"tickSize":-5,"labels":false,"title":null}},"x2":{"field":"t1"},"y":{"field":"v","type":"quantitative","scale":{"domain":[1030,1405],"clamp":true,"nice":false,"zero":false},"axis":{"orient":"left","values":[1040,1060,1080,1100,1120,1140,1160,1180,1200,1220,1240,1260,1280,1300,1320,1340,1360,1380,1400],"tickSize":{"condition":{"test":"datum.value % 100 === 0","value":-7},"value":-3.5},"labelExpr":"datum.value % 100 === 0 ? '' + datum.value : ''","title":null}}}},
{"mark":{"type":"line","interpolate":"step-after","color":"black","strokeWidth":1},"encoding":{"x":{"field":"t0","type":"quantitative","axis":{"orient":"top","values":[0,10,20,30,40],"tickSize":-5,"labels":false,"title":null}},"y":{"field":"v","type":"quantitative","axis":{"orient":"right","values":[1040,1060,1080,1100,1120,1140,1160,1180,1200,1220,1240,1260,1280,1300,1320,1340,1360,1380,1400],"tickSize":{"condition":{"test":"datum.value % 100 === 0","value":-7},"value":-3.5},"labels":false,"title":"b1"}}}},
{"mark":{"type":"errorbar","color":"black","thickness":1},"encoding":{"x":{"field":"t","type":"quantitative","axis":null},"y":{"field":"v","type":"quantitative","axis":null},"yError":{"field":"e"}}}
],"resolve":{"axis":{"x":"independent","y":"independent"}}},
{"width":544,"height":48.25,
"transform":[{"filter":"datum.d==='n0'"},{"bin":{"step":1.024,"anchor":-0.3,"extent":[-10.6,50.5]},"field":"t","as":["t0","t1"]}],
"layer":[
{"mark":{"type":"rule","color":"black","strokeWidth":1},"encoding":{"x":{"field":"t0","type":"quantitative","scale":{"domain":[-10,50],"clamp":true,"nice":false,"zero":false},"axis":{"orient":"bottom","values":[0,10,20,30,40],"tickSize":-5,"labels":false,"title":null}},"x2":{"field":"t1"},"y":{"field":"v","type":"quantitative","scale":{"domain":[840,1165],"clamp":true,"nice":false,"zero":false},"axis":{"orient":"left","values":[840,860,880,900,920,940,960,980,1000,1020,1040,1060,1080,1100,1120,1140,1160],"tickSize":{"condition":{"test":"datum.value % 100 === 0","value":-7},"value":-3.5},"labelExpr":"datum.value % 100 === 0 ? '' + datum.value : ''","title":null}}}},
{"mark":{"type":"line","interpolate":"step-after","color":"black","strokeWidth":1},"encoding":{"x":{"field":"t0","type":"quantitative","axis":{"orient":"top","values":[0,10,20,30,40],"tickSize":-5,"labels":false,"title":null}},"y":{"field":"v","type":"quantitative","axis":{"orient":"right","values":[840,860,880,900,920,940,960,980,1000,1020,1040,1060,1080,1100,1120,1140,1160],"tickSize":{"condition":{"test":"datum.value % 100 === 0","value":-7},"value":-3.5},"labels":false,"title":"n0"}}}},
{"mark":{"type":"errorbar","color":"black","thickness":1},"encoding":{"x":{"field":"t","type":"quantitative","axis":null},"y":{"field":"v","type":"quantitative","axis":null},"yError":{"field":"e"}}}
],"resolve":{"axis":{"x":"independent","y":"independent"}}},
{"width":544,"height":48.25,
"transform":[{"filter":"datum.d==='n1'"},{"bin":{"step":1.024,"anchor":-0.3,"extent":[-10.6,50.5]},"field":"t","as":["t0","t1"]}],
"layer":[
{"mark":{"type":"rule","color":"black","strokeWidth":1},"encoding":{"x":{"field":"t0","type":"quantitative","scale":{"domain":[-10,50],"clamp":true,"nice":false,"zero":false},"axis":{"orient":"bottom","values":[0,10,20,30,40],"tickSize":-5,"labels":false,"title":null}},"x2":{"field":"t1"},"y":{"field":"v","type":"quantitative","scale":{"domain":[850,1180],"clamp":true,"nice":false,"zero":false},"axis":{"orient":"left","values":[860,880,900,920,940,960,980,1000,1020,1040,1060,1080,1100,1120,1140,1160],"tickSize":{"condition":{"test":"datum.value % 100 === 0","value":-7},"value":-3.5},"labelExpr":"datum.value % 100 === 0 ? '' + datum.value : ''","title":null}}}},
{"mark":{"type":"line","interpolate":"step-after","color":"black","strokeWidth":1},"encoding":{"x":{"field":"t0","type":"quantitative","axis":{"orient":"top","values":[0,10,20,30,40],"tickSize":-5,"labels":false,"title":null}},"y":{"field":"v","type":"quantitative","axis":{"orient":"right","values":[860,880,900,920,940,960,980,1000,1020,1040,1060,1080,1100,1120,1140,1160],"tickSize":{"condition":{"test":"datum.value % 100 === 0","value":-7},"value":-3.5},"labels":false,"title":"n1"}}}},
{"mark":{"type":"errorbar","color":"black","thickness":1},"encoding":{"x":{"field":"t","type":"quantitative","axis":null},"y":{"field":"v","type":"quantitative","axis":null},"yError":{"field":"e"}}}
],"resolve":{"axis":{"x":"independent","y":"independent"}}},
{"width":544,"height":48.25,
"transform":[{"filter":"datum.d==='n2'"},{"bin":{"step":1.024,"anchor":-0.3,"extent":[-10.6,50.5]},"field":"t","as":["t0","t1"]}],
"layer":[
{"mark":{"type":"rule","color":"black","strokeWidth":1},"encoding":{"x":{"field":"t0","type":"quantitative","scale":{"domain":[-10,50],"clamp":true,"nice":false,"zero":false},"axis":{"orient":"bottom","values":[0,10,20,30,40],"tickSize":-5,"labels":false,"title":null}},"x2":{"field":"t1"},"y":{"field":"v","type":"quantitative","scale":{"domain":[687,1050],"clamp":true,"nice":false,"zero":false},"axis":{"orient":"left","values":[700,720,740,760,780,800,820,840,860,880,900,920,940,960,980,1000,1020,1040],"tickSize":{"condition":{"test":"datum.value % 100 === 0","value":-7},"value":-3.5},"labelExpr":"datum.value % 100 === 0 ? '' + datum.value : ''","title":null}}}},
{"mark":{"type":"line","interpolate":"step-after","color":"black","strokeWidth":1},"encoding":{"x":{"field":"t0","type":"quantitative","axis":{"orient":"top","values":[0,10,20,30,40],"tickSize":-5,"labels":false,"title":null}},"y":{"field":"v","type":"quantitative","axis":{"orient":"right","values":[700,720,740,760,780,800,820,840,860,880,900,920,940,960,980,1000,1020,1040],"tickSize":{"condition":{"test":"datum.value % 100 === 0","value":-7},"value":-3.5},"labels":false,"title":"n2"}}}},
{"mark":{"type":"errorbar","color":"black","thickness":1},"encoding":{"x":{"field":"t","type":"quantitative","axis":null},"y":{"field":"v","type":"quantitative","axis":null},"yError":{"field":"e"}}}
],"resolve":{"axis":{"x":"independent","y":"independent"}}},
{"width":544,"height":48.25,
"transform":[{"filter":"datum.d==='n3'"},{"bin":{"step":1.024,"anchor":-0.3,"extent":[-10.6,50.5]},"field":"t","as":["t0","t1"]}],
"layer":[
{"mark":{"type":"rule","color":"black","strokeWidth":1},"encoding":{"x":{"field":"t0","type":"quantitative","scale":{"domain":[-10,50],"clamp":true,"nice":false,"zero":false},"axis":{"orient":"bottom","values":[0,10,20,30,40],"tickSize":-5,"labels":false,"title":null}},"x2":{"field":"t1"},"y":{"field":"v","type":"quantitative","scale":{"domain":[1010,1290],"clamp":true,"nice":false,"zero":false},"axis":{"orient":"left","values":[1020,1040,1060,1080,1100,1120,1140,1160,1180,1200,1220,1240,1260,1280],"tickSize":{"condition":{"test":"datum.value % 100 === 0","value":-7},"value":-3.5},"labelExpr":"datum.value % 100 === 0 ? '' + datum.value : ''","title":null}}}},
{"mark":{"type":"line","interpolate":"step-after","color":"black","strokeWidth":1},"encoding":{"x":{"field":"t0","type":"quantitative","axis":{"orient":"top","values":[0,10,20,30,40],"tickSize":-5,"labels":false,"title":null}},"y":{"field":"v","type":"quantitative","axis":{"orient":"right","values":[1020,1040,1060,1080,1100,1120,1140,1160,1180,1200,1220,1240,1260,1280],"tickSize":{"condition":{"test":"datum.value % 100 === 0","value":-7},"value":-3.5},"labels":false,"title":"n3"}}}},
{"mark":{"type":"errorbar","color":"black","thickness":1},"encoding":{"x":{"field":"t","type":"quantitative","axis":null},"y":{"field":"v","type":"quantitative","axis":null},"yError":{"field":"e"}}}
],"resolve":{"axis":{"x":"independent","y":"independent"}}},
{"width":544,"height":48.25,
"transform":[{"filter":"datum.d==='n4'"},{"bin":{"step":1.024,"anchor":-0.3,"extent":[-10.6,50.5]},"field":"t","as":["t0","t1"]}],
"layer":[
{"mark":{"type":"rule","color":"black","strokeWidth":1},"encoding":{"x":{"field":"t0","type":"quantitative","scale":{"domain":[-10,50],"clamp":true,"nice":false,"zero":false},"axis":{"orient":"bottom","values":[0,10,20,30,40],"tickSize":-5,"labels":false,"title":null}},"x2":{"field":"t1"},"y":{"field":"v","type":"quantitative","scale":{"domain":[979,1235],"clamp":true,"nice":false,"zero":false},"axis":{"orient":"left","values":[980,1000,1020,1040,1060,1080,1100,1120,1140,1160,1180,1200,1220],"tickSize":{"condition":{"test":"datum.value % 100 === 0","value":-7},"value":-3.5},"labelExpr":"datum.value % 100 === 0 ? '' + datum.value : ''","title":null}}}},
{"mark":{"type":"line","interpolate":"step-after","color":"black","strokeWidth":1},"encoding":{"x":{"field":"t0","type":"quantitative","axis":{"orient":"top","values":[0,10,20,30,40],"tickSize":-5,"labels":false,"title":null}},"y":{"field":"v","type":"quantitative","axis":{"orient":"right","values":[980,1000,1020,1040,1060,1080,1100,1120,1140,1160,1180,1200,1220],"tickSize":{"condition":{"test":"datum.value % 100 === 0","value":-7},"value":-3.5},"labels":false,"title":"n4"}}}},
{"mark":{"type":"errorbar","color":"black","thickness":1},"encoding":{"x":{"field":"t","type":"quantitative","axis":null},"y":{"field":"v","type":"quantitative","axis":null},"yError":{"field":"e"}}}
],"resolve":{"axis":{"x":"independent","y":"independent"}}},
{"width":544,"height":48.25,
"transform":[{"filter":"datum.d==='n5'"},{"bin":{"step":1.024,"anchor":-0.3,"extent":[-10.6,50.5]},"field":"t","as":["t0","t1"]}],
"layer":[
{"mark":{"type":"rule","color":"black","strokeWidth":1},"encoding":{"x":{"field":"t0","type":"quantitative","scale":{"domain":[-10,50],"clamp":true,"nice":false,"zero":false},"axis":{"orient":"bottom","values":[0,10,20,30,40],"tickSize":-5,"labels":false,"title":null}},"x2":{"field":"t1"},"y":{"field":"v","type":"quantitative","scale":{"domain":[850,1144],"clamp":true,"nice":false,"zero":false},"axis":{"orient":"left","values":[860,880,900,920,940,960,980,1000,1020,1040,1060,1080,1100,1120,1140],"tickSize":{"condition":{"test":"datum.value % 100 === 0","value":-7},"value":-3.5},"labelExpr":"datum.value % 100 === 0 ? '' + datum.value : ''","title":null}}}},
{"mark":{"type":"line","interpolate":"step-after","color":"black","strokeWidth":1},"encoding":{"x":{"field":"t0","type":"quantitative","axis":{"orient":"top","values":[0,10,20,30,40],"tickSize":-5,"labels":false,"title":null}},"y":{"field":"v","type":"quantitative","axis":{"orient":"right","values":[860,880,900,920,940,960,980,1000,1020,1040,1060,1080,1100,1120,1140],"tickSize":{"condition":{"test":"datum.value % 100 === 0","value":-7},"value":-3.5},"labels":false,"title":"n5"}}}},
{"mark":{"type":"errorbar","color":"black","thickness":1},"encoding":{"x":{"field":"t","type":"quantitative","axis":null},"y":{"field":"v","type":"quantitative","axis":null},"yError":{"field":"e"}}}
],"resolve":{"axis":{"x":"independent","y":"independent"}}},
{"width":544,"height":48.25,
"transform":[{"filter":"datum.d==='n6'"},{"bin":{"step":1.024,"anchor":-0.3,"extent":[-10.6,50.5]},"field":"t","as":["t0","t1"]}],
"layer":[
{"mark":{"type":"rule","color":"black","strokeWidth":1},"encoding":{"x":{"field":"t0","type":"quantitative","scale":{"domain":[-10,50],"clamp":true,"nice":false,"zero":false},"axis":{"orient":"bottom","values":[0,10,20,30,40],"tickSize":-5,"labels":false,"title":null}},"x2":{"field":"t1"},"y":{"field":"v","type":"quantitative","scale":{"domain":[805,1190],"clamp":true,"nice":false,"zero":false},"axis":{"orient":"left","values":[820,840,860,880,900,920,940,960,980,1000,1020,1040,1060,1080,1100,1120,1140,1160,1180],"tickSize":{"condition":{"test":"datum.value % 100 === 0","value":-7},"value":-3.5},"labelExpr":"datum.value % 100 === 0 ? '' + datum.value : ''","title":null}}}},
{"mark":{"type":"line","interpolate":"step-after","color":"black","strokeWidth":1},"encoding":{"x":{"field":"t0","type":"quantitative","axis":{"orient":"top","values":[0,10,20,30,40],"tickSize":-5,"labels":false,"title":null}},"y":{"field":"v","type":"quantitative","axis":{"orient":"right","values":[820,840,860,880,900,920,940,960,980,1000,1020,1040,1060,1080,1100,1120,1140,1160,1180],"tickSize":{"condition":{"test":"datum.value % 100 === 0","value":-7},"value":-3.5},"labels":false,"title":"n6"}}}},
{"mark":{"type":"errorbar","color":"black","thickness":1},"encoding":{"x":{"field":"t","type":"quantitative","axis":null},"y":{"field":"v","type":"quantitative","axis":null},"yError":{"field":"e"}}}
],"resolve":{"axis":{"x":"independent","y":"independent"}}},
{"width":544,"height":48.25,
"transform":[{"filter":"datum.d==='n7'"},{"bin":{"step":1.024,"anchor":-0.3,"extent":[-10.6,50.5]},"field":"t","as":["t0","t1"]}],
"layer":[
{"mark":{"type":"rule","color":"black","strokeWidth":1},"encoding":{"x":{"field":"t0","type":"quantitative","scale":{"domain":[-10,50],"clamp":true,"nice":false,"zero":false},"axis":{"orient":"bottom","values":[0,10,20,30,40],"tickSize":-5,"labels":false,"title":null}},"x2":{"field":"t1"},"y":{"field":"v","type":"quantitative","scale":{"domain":[980,1280],"clamp":true,"nice":false,"zero":false},"axis":{"orient":"left","values":[980,1000,1020,1040,1060,1080,1100,1120,1140,1160,1180,1200,1220,1240,1260,1280],"tickSize":{"condition":{"test":"datum.value % 100 === 0","value":-7},"value":-3.5},"labelExpr":"datum.value % 100 === 0 ? '' + datum.value : ''","title":null}}}},
{"mark":{"type":"line","interpolate":"step-after","color":"black","strokeWidth":1},"encoding":{"x":{"field":"t0","type":"quantitative","axis":{"orient":"top","values":[0,10,20,30,40],"tickSize":-5,"labels":false,"title":null}},"y":{"field":"v","type":"quantitative","axis":{"orient":"right","values":[980,1000,1020,1040,1060,1080,1100,1120,1140,1160,1180,1200,1220,1240,1260,1280],"tickSize":{"condition":{"test":"datum.value % 100 === 0","value":-7},"value":-3.5},"labels":false,"title":"n7"}}}},
{"mark":{"type":"errorbar","color":"black","thickness":1},"encoding":{"x":{"field":"t","type":"quantitative","axis":null},"y":{"field":"v","type":"quantitative","axis":null},"yError":{"field":"e"}}}
],"resolve":{"axis":{"x":"independent","y":"independent"}}},
{"width":544,"height":48.25,
"transform":[{"filter":"datum.d==='n8'"},{"bin":{"step":1.024,"anchor":-0.3,"extent":[-10.6,50.5]},"field":"t","as":["t0","t1"]}],
"layer":[
{"mark":{"type":"rule","color":"black","strokeWidth":1},"encoding":{"x":{"field":"t0","type":"quantitative","scale":{"domain":[-10,50],"clamp":true,"nice":false,"zero":false},"axis":{"orient":"bottom","values":[0,10,20,30,40],"tickSize":-5,"labels":false,"title":null}},"x2":{"field":"t1"},"y":{"field":"v","type":"quantitative","scale":{"domain":[910,1152],"clamp":true,"nice":false,"zero":false},"axis":{"orient":"left","values":[910,920,930,940,950,960,970,980,990,1000,1010,1020,1030,1040,1050,1060,1070,1080,1090,1100,1110,1120,1130,1140,1150],"tickSize":{"condition":{"test":"datum.value % 50 === 0","value":-7},"value":-3.5},"labelExpr":"datum.value % 50 === 0 ? '' + datum.value : ''","title":null}}}},
{"mark":{"type":"line","interpolate":"step-after","color":"black","strokeWidth":1},"encoding":{"x":{"field":"t0","type":"quantitative","axis":{"orient":"top","values":[0,10,20,30,40],"tickSize":-5,"labels":false,"title":null}},"y":{"field":"v","type":"quantitative","axis":{"orient":"right","values":[910,920,930,940,950,960,970,980,990,1000,1010,1020,1030,1040,1050,1060,1070,1080,1090,1100,1110,1120,1130,1140,1150],"tickSize":{"condition":{"test":"datum.value % 50 === 0","value":-7},"value":-3.5},"labels":false,"title":"n8"}}}},
{"mark":{"type":"errorbar","color":"black","thickness":1},"encoding":{"x":{"field":"t","type":"quantitative","axis":null},"y":{"field":"v","type":"quantitative","axis":null},"yError":{"field":"e"}}}
],"resolve":{"axis":{"x":"independent","y":"independent"}}},
{"width":544,"height":48.25,
"transform":[{"filter":"datum.d==='n9'"},{"bin":{"step":1.024,"anchor":-0.3,"extent":[-10.6,50.5]},"field":"t","as":["t0","t1"]}],
"layer":[
{"mark":{"type":"rule","color":"black","strokeWidth":1},"encoding":{"x":{"field":"t0","type":"quantitative","scale":{"domain":[-10,50],"clamp":true,"nice":false,"zero":false},"axis":{"orient":"bottom","values":[0,10,20,30,40],"tickSize":-5,"labels":false,"title":null}},"x2":{"field":"t1"},"y":{"field":"v","type":"quantitative","scale":{"domain":[860,1326],"clamp":true,"nice":false,"zero":false},"axis":{"orient":"left","values":[860,880,900,920,940,960,980,1000,1020,1040,1060,1080,1100,1120,1140,1160,1180,1200,1220,1240,1260,1280,1300,1320],"tickSize":{"condition":{"test":"datum.value % 100 === 0","value":-7},"value":-3.5},"labelExpr":"datum.value % 100 === 0 ? '' + datum.value : ''","title":null}}}},
{"mark":{"type":"line","interpolate":"step-after","color":"black","strokeWidth":1},"encoding":{"x":{"field":"t0","type":"quantitative","axis":{"orient":"top","values":[0,10,20,30,40],"tickSize":-5,"labels":false,"title":null}},"y":{"field":"v","type":"quantitative","axis":{"orient":"right","values":[860,880,900,920,940,960,980,1000,1020,1040,1060,1080,1100,1120,1140,1160,1180,1200,1220,1240,1260,1280,1300,1320],"tickSize":{"condition":{"test":"datum.value % 100 === 0","value":-7},"value":-3.5},"labels":false,"title":"n9"}}}},
{"mark":{"type":"errorbar","color":"black","thickness":1},"encoding":{"x":{"field":"t","type":"quantitative","axis":null},"y":{"field":"v","type":"quantitative","axis":null},"yError":{"field":"e"}}}
],"resolve":{"axis":{"x":"independent","y":"independent"}}},
{"width":544,"height":48.25,
"transform":[{"filter":"datum.d==='na'"},{"bin":{"step":1.024,"anchor":-0.3,"extent":[-10.6,50.5]},"field":"t","as":["t0","t1"]}],
"layer":[
{"mark":{"type":"rule","color":"black","strokeWidth":1},"encoding":{"x":{"field":"t0","type":"quantitative","scale":{"domain":[-10,50],"clamp":true,"nice":false,"zero":false},"axis":{"orient":"bottom","values":[0,10,20,30,40],"tickSize":-5,"labels":false,"title":null}},"x2":{"field":"t1"},"y":{"field":"v","type":"quantitative","scale":{"domain":[680,1045],"clamp":true,"nice":false,"zero":false},"axis":{"orient":"left","values":[680,700,720,740,760,780,800,820,840,860,880,900,920,940,960,980,1000,1020,1040],"tickSize":{"condition":{"test":"datum.value % 100 === 0","value":-7},"value":-3.5},"labelExpr":"datum.value % 100 === 0 ? '' + datum.value : ''","title":null}}}},
{"mark":{"type":"line","interpolate":"step-after","color":"black","strokeWidth":1},"encoding":{"x":{"field":"t0","type":"quantitative","axis":{"orient":"top","values":[0,10,20,30,40],"tickSize":-5,"labels":false,"title":null}},"y":{"field":"v","type":"quantitative","axis":{"orient":"right","values":[680,700,720,740,760,780,800,820,840,860,880,900,920,940,960,980,1000,1020,1040],"tickSize":{"condition":{"test":"datum.value % 100 === 0","value":-7},"value":-3.5},"labels":false,"title":"na"}}}},
{"mark":{"type":"errorbar","color":"black","thickness":1},"encoding":{"x":{"field":"t","type":"quantitative","axis":null},"y":{"field":"v","type":"quantitative","axis":null},"yError":{"field":"e"}}}
],"resolve":{"axis":{"x":"independent","y":"independent"}}},
{"width":544,"height":48.25,"title":{"text":"16-Aug-2016 23:17","orient":"bottom","anchor":"end","frame":"group","fontSize":12,"fontWeight":"normal","font":"DejaVu Sans","color":"black","offset":12,"dx":65},
"transform":[{"filter":"datum.d==='nb'"},{"bin":{"step":1.024,"anchor":-0.3,"extent":[-10.6,50.5]},"field":"t","as":["t0","t1"]}],
"layer":[
{"mark":{"type":"rule","color":"black","strokeWidth":1},"encoding":{"x":{"field":"t0","type":"quantitative","scale":{"domain":[-10,50],"clamp":true,"nice":false,"zero":false},"axis":{"orient":"bottom","values":[0,10,20,30,40],"tickSize":-5,"labelExpr":"datum.value % 20 === 0 ? '' + datum.value : ''","title":"Time − 493034153.707428 [sec]"}},"x2":{"field":"t1"},"y":{"field":"v","type":"quantitative","scale":{"domain":[810,1117],"clamp":true,"nice":false,"zero":false},"axis":{"orient":"left","values":[820,840,860,880,900,920,940,960,980,1000,1020,1040,1060,1080,1100],"tickSize":{"condition":{"test":"datum.value % 100 === 0","value":-7},"value":-3.5},"labelExpr":"datum.value % 100 === 0 ? '' + datum.value : ''","title":null}}}},
{"mark":{"type":"line","interpolate":"step-after","color":"black","strokeWidth":1},"encoding":{"x":{"field":"t0","type":"quantitative","axis":{"orient":"top","values":[0,10,20,30,40],"tickSize":-5,"labels":false,"title":null}},"y":{"field":"v","type":"quantitative","axis":{"orient":"right","values":[820,840,860,880,900,920,940,960,980,1000,1020,1040,1060,1080,1100],"tickSize":{"condition":{"test":"datum.value % 100 === 0","value":-7},"value":-3.5},"labels":false,"title":"nb"}}}},
{"mark":{"type":"errorbar","color":"black","thickness":1},"encoding":{"x":{"field":"t","type":"quantitative","axis":null},"y":{"field":"v","type":"quantitative","axis":null},"yError":{"field":"e"}}}
],"resolve":{"axis":{"x":"independent","y":"independent"}}}
]
}
